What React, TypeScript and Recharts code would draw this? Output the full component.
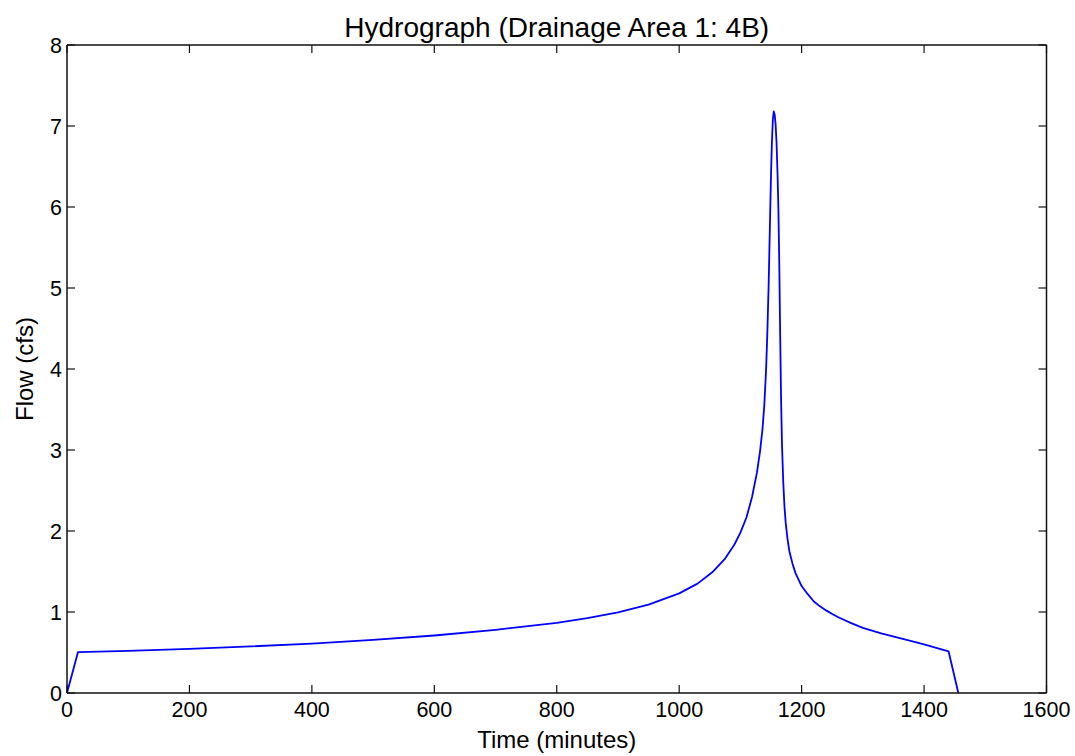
import React from 'react';
import { LineChart, Line, XAxis, YAxis } from 'recharts';

// hydrograph samples
const timeMin = [
  0, 18, 100, 200, 300, 400, 500, 600, 700, 800, 850, 900, 950, 1000, 1030, 1054,
  1075, 1090, 1100, 1110, 1119, 1127, 1132, 1136, 1139, 1142, 1144, 1146, 1148,
  1150, 1151.5, 1153, 1154.5, 1156, 1157.5, 1159, 1160.5, 1162, 1163.5, 1165,
  1166.5, 1168, 1170, 1172, 1174, 1177, 1180, 1185, 1190, 1200, 1210, 1220, 1230,
  1240, 1250, 1260, 1280, 1300, 1330, 1370, 1400, 1440, 1456,
];
const flowCfs = [
  0, 0.505, 0.52, 0.545, 0.575, 0.61, 0.655, 0.71, 0.78, 0.865, 0.925, 0.995, 1.09, 1.23, 1.35, 1.49,
  1.66, 1.83, 1.98, 2.17, 2.42, 2.72, 2.98, 3.25, 3.55, 4.0, 4.45, 5.0, 5.7,
  6.4, 6.8, 7.08, 7.18, 7.14, 7.02, 6.8, 6.45, 6.0, 5.3, 4.4,
  3.6, 3.05, 2.6, 2.3, 2.1, 1.9, 1.75, 1.6, 1.48, 1.32, 1.22, 1.13, 1.07,
  1.02, 0.975, 0.935, 0.865, 0.805, 0.735, 0.66, 0.6, 0.515, 0,
];
const xTicks = [0, 200, 400, 600, 800, 1000, 1200, 1400, 1600];
const yTicks = [0, 1, 2, 3, 4, 5, 6, 7, 8];

const data = timeMin.map((t, i) => ({ t, q: flowCfs[i] }));

const FONT = '"Liberation Sans", Arial, sans-serif';
const TICK_LEN = 8;
const frame = { stroke: '#111', strokeWidth: 1.5 };

// matplotlib-style inward ticks
const BottomTick = ({ x, y, payload }: any) => (
  <g>
    <line x1={x} x2={x} y1={y} y2={y - TICK_LEN} stroke="#111" strokeWidth={1.2} />
    <text x={x} y={y + 9} dy="0.71em" textAnchor="middle" fontSize={21.5} fontFamily={FONT} fill="#000">
      {payload.value}
    </text>
  </g>
);
const LeftTick = ({ x, y, payload }: any) => (
  <g>
    <line x1={x} x2={x + TICK_LEN} y1={y} y2={y} stroke="#111" strokeWidth={1.2} />
    <text x={x - 5} y={y} dy="0.36em" textAnchor="end" fontSize={21.5} fontFamily={FONT} fill="#000">
      {payload.value}
    </text>
  </g>
);
const TopTick = ({ x, y }: any) => (
  <line x1={x} x2={x} y1={y} y2={y + TICK_LEN} stroke="#111" strokeWidth={1.2} />
);
const RightTick = ({ x, y }: any) => (
  <line x1={x} x2={x - TICK_LEN} y1={y} y2={y} stroke="#111" strokeWidth={1.2} />
);

const TitleLabel = ({ viewBox }: any) => (
  <text
    x={viewBox.x + viewBox.width / 2}
    y={viewBox.y + viewBox.height - 8}
    textAnchor="middle"
    fontSize={28}
    fontFamily={FONT}
    fill="#000"
  >
    Hydrograph (Drainage Area 1: 4B)
  </text>
);

const XLabel = ({ viewBox }: any) => (
  <text
    x={viewBox.x + viewBox.width / 2}
    y={viewBox.y + viewBox.height - 8}
    textAnchor="middle"
    fontSize={24}
    fontFamily={FONT}
    fill="#000"
  >
    Time (minutes)
  </text>
);

const YLabel = ({ viewBox }: any) => {
  const cx = viewBox.x + 24;
  const cy = viewBox.y + viewBox.height / 2;
  return (
    <text
      x={cx}
      y={cy}
      transform={`rotate(-90 ${cx} ${cy})`}
      textAnchor="middle"
      dominantBaseline="central"
      fontSize={24}
      fontFamily={FONT}
      fill="#000"
    >
      Flow (cfs)
    </text>
  );
};

export default function App() {
  return (
    <div style={{ position: 'absolute', left: 0, top: 0, background: '#fff' }}>
      <LineChart
        width={1075}
        height={756}
        data={data}
        margin={{ top: 0, right: 27, left: 0, bottom: 0 }}
      >
        <XAxis
          dataKey="t"
          type="number"
          domain={[0, 1600]}
          ticks={xTicks}
          interval={0}
          height={63}
          tickSize={0}
          tickMargin={0}
          tick={<BottomTick />}
          axisLine={frame}
          tickLine={false}
          label={<XLabel />}
        />
        <XAxis
          xAxisId="top"
          dataKey="t"
          type="number"
          orientation="top"
          domain={[0, 1600]}
          ticks={xTicks}
          interval={0}
          height={45}
          tickSize={0}
          tickMargin={0}
          tick={<TopTick />}
          axisLine={frame}
          tickLine={false}
          label={<TitleLabel />}
        />
        <YAxis
          type="number"
          domain={[0, 8]}
          ticks={yTicks}
          interval={0}
          width={67}
          tickSize={0}
          tickMargin={0}
          tick={<LeftTick />}
          axisLine={frame}
          tickLine={false}
          label={<YLabel />}
        />
        <YAxis
          yAxisId="right"
          type="number"
          orientation="right"
          domain={[0, 8]}
          ticks={yTicks}
          interval={0}
          width={1.5}
          tickSize={0}
          tickMargin={0}
          tick={<RightTick />}
          axisLine={frame}
          tickLine={false}
        />
        <Line
          dataKey="q"
          type="linear"
          stroke="#0000ff"
          strokeWidth={1.8}
          strokeLinejoin="round"
          dot={false}
          isAnimationActive={false}
        />
        <Line
          xAxisId="top"
          yAxisId="right"
          dataKey="q"
          stroke="none"
          dot={false}
          activeDot={false}
          legendType="none"
          isAnimationActive={false}
        />
      </LineChart>
    </div>
  );
}
